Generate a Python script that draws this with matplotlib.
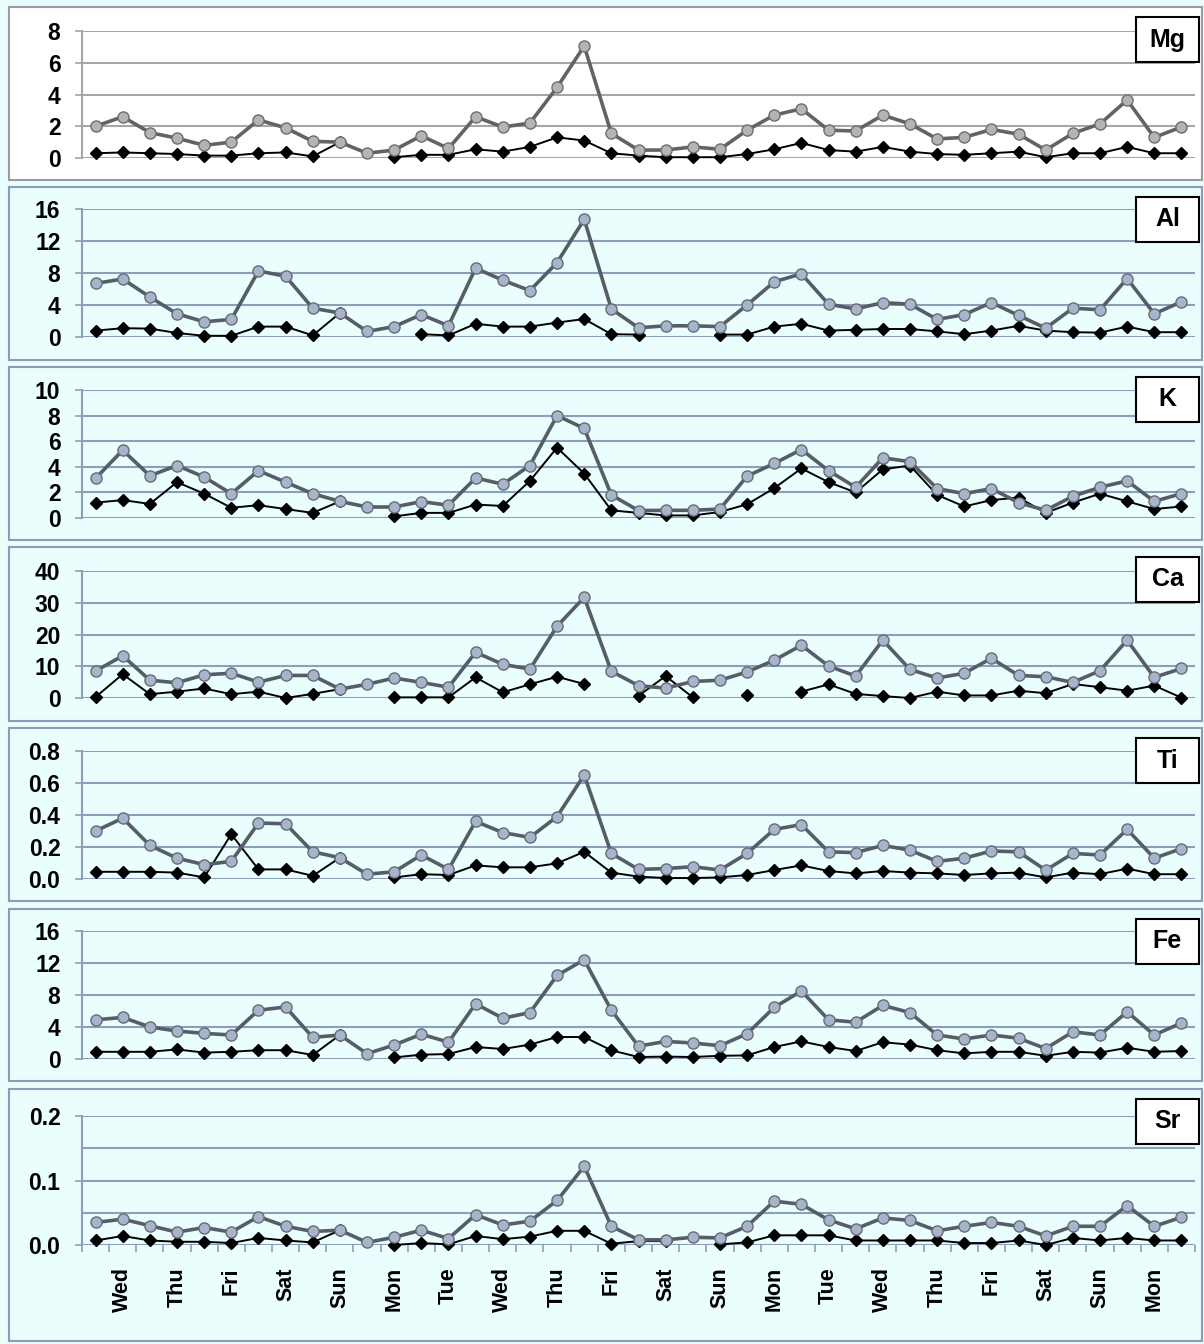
import numpy as np
import matplotlib
matplotlib.use("Agg")
import matplotlib.pyplot as plt
from matplotlib.patches import Rectangle
from matplotlib.ticker import MultipleLocator

plt.rcParams['font.family'] = ['Liberation Sans', 'DejaVu Sans']
plt.rcParams['font.weight'] = 'bold'

nan = np.nan

# day labels shown under every second sample (samples 1, 3, 5, ...)
days = ["Wed", "Thu", "Fri", "Sat", "Sun", "Mon", "Tue", "Wed", "Thu", "Fri",
        "Sat", "Sun", "Mon", "Tue", "Wed", "Thu", "Fri", "Sat", "Sun", "Mon"]
elements = ["Mg", "Al", "K", "Ca", "Ti", "Fe", "Sr"]

# total concentration (grey circles) and fraction (black diamonds) per element
mg_total = [2.0, 2.6, 1.6, 1.25, 0.8, 1.0, 2.4, 1.9, 1.05, 1.0,
            0.3, 0.5, 1.4, 0.6, 2.6, 1.95, 2.2, 4.45, 7.05, 1.55,
            0.5, 0.5, 0.7, 0.55, 1.75, 2.7, 3.1, 1.75, 1.7, 2.7,
            2.15, 1.2, 1.3, 1.8, 1.5, 0.5, 1.55, 2.15, 3.65, 1.3, 1.95]
mg_part = [0.3, 0.35, 0.3, 0.25, 0.15, 0.15, 0.3, 0.35, 0.1, 1.0,
           nan, 0.05, 0.2, 0.2, 0.55, 0.4, 0.7, 1.3, 1.1, 0.3,
           0.15, 0.05, 0.05, 0.05, 0.25, 0.55, 0.95, 0.5, 0.4, 0.7,
           0.4, 0.25, 0.2, 0.3, 0.4, 0.05, 0.3, 0.3, 0.7, 0.3, 0.3]

al_total = [6.7, 7.25, 5.0, 2.9, 1.9, 2.2, 8.25, 7.6, 3.6, 3.0,
            0.7, 1.3, 2.8, 1.4, 8.6, 7.1, 5.8, 9.3, 14.7, 3.5,
            1.15, 1.4, 1.4, 1.3, 4.0, 6.9, 7.9, 4.1, 3.5, 4.3,
            4.1, 2.2, 2.8, 4.3, 2.7, 1.1, 3.6, 3.4, 7.3, 2.9, 4.4]
al_part = [0.8, 1.1, 1.05, 0.5, 0.15, 0.15, 1.3, 1.3, 0.2, 3.0,
           nan, nan, 0.35, 0.2, 1.65, 1.3, 1.3, 1.8, 2.25, 0.35,
           0.3, nan, nan, 0.3, 0.3, 1.3, 1.65, 0.8, 0.9, 1.0,
           1.0, 0.7, 0.35, 0.8, 1.4, 0.8, 0.6, 0.55, 1.3, 0.6, 0.6]

k_total = [3.1, 5.3, 3.3, 4.1, 3.2, 1.9, 3.7, 2.8, 1.9, 1.3,
           0.86, 0.86, 1.28, 1.0, 3.13, 2.64, 4.1, 8.0, 7.0, 1.8,
           0.58, 0.6, 0.6, 0.7, 3.27, 4.26, 5.35, 3.7, 2.4, 4.7,
           4.4, 2.3, 1.9, 2.3, 1.2, 0.6, 1.7, 2.4, 2.9, 1.3, 1.9]
k_part = [1.2, 1.4, 1.1, 2.8, 1.9, 0.8, 1.0, 0.7, 0.4, 1.3,
          nan, 0.13, 0.4, 0.4, 1.05, 0.94, 2.9, 5.5, 3.47, 0.6,
          0.4, 0.2, 0.2, 0.47, 1.07, 2.33, 3.87, 2.8, 2.0, 3.8,
          4.1, 1.8, 0.9, 1.4, 1.6, 0.4, 1.2, 1.9, 1.3, 0.7, 0.9]

ca_total = [8.5, 13.3, 5.6, 4.8, 7.3, 7.8, 5.0, 7.1, 7.1, 2.8,
            4.3, 6.3, 4.9, 3.4, 14.4, 10.6, 9.1, 22.6, 31.7, 8.4,
            3.9, 3.1, 5.2, 5.6, 8.2, 11.9, 16.6, 10.1, 6.9, 18.2,
            9.0, 6.3, 7.8, 12.5, 7.1, 6.7, 4.9, 8.6, 18.2, 6.5, 9.3]
ca_part = [0.3, 7.5, 1.2, 2.0, 3.0, 1.2, 2.0, 0.0, 1.3, 2.8,
           nan, 0.2, 0.2, 0.2, 6.5, 1.8, 4.3, 6.7, 4.4, nan,
           0.7, 6.9, 0.2, nan, 0.9, nan, 2.0, 4.3, 1.3, 0.6,
           0.0, 2.0, 0.8, 0.8, 2.3, 1.5, 4.4, 3.4, 2.3, 3.9, 0.1]

ti_total = [0.30, 0.38, 0.21, 0.13, 0.09, 0.11, 0.35, 0.345, 0.17, 0.133,
            0.03, 0.045, 0.15, 0.06, 0.36, 0.29, 0.26, 0.39, 0.65, 0.16,
            0.06, 0.065, 0.077, 0.056, 0.16, 0.31, 0.34, 0.17, 0.165, 0.21,
            0.18, 0.11, 0.13, 0.175, 0.17, 0.055, 0.16, 0.15, 0.31, 0.13, 0.19]
ti_part = [0.045, 0.045, 0.045, 0.04, 0.01, 0.28, 0.06, 0.06, 0.02, 0.133,
           nan, 0.01, 0.03, 0.025, 0.085, 0.073, 0.073, 0.098, 0.17, 0.04,
           0.015, 0.006, 0.006, 0.01, 0.025, 0.056, 0.085, 0.05, 0.035, 0.05,
           0.04, 0.035, 0.025, 0.035, 0.04, 0.01, 0.04, 0.03, 0.065, 0.03, 0.03]

fe_total = [4.9, 5.2, 4.0, 3.5, 3.2, 3.0, 6.1, 6.5, 2.7, 3.0,
            0.66, 1.75, 3.1, 2.1, 6.9, 5.1, 5.8, 10.45, 12.4, 6.1,
            1.6, 2.2, 2.0, 1.66, 3.16, 6.45, 8.5, 4.9, 4.6, 6.7,
            5.8, 3.0, 2.5, 3.0, 2.6, 1.3, 3.4, 3.0, 5.9, 3.0, 4.5]
fe_part = [0.9, 0.9, 0.9, 1.2, 0.8, 0.9, 1.1, 1.1, 0.5, 3.0,
           nan, 0.2, 0.54, 0.62, 1.5, 1.25, 1.8, 2.75, 2.75, 1.08,
           0.25, 0.3, 0.25, 0.4, 0.45, 1.5, 2.2, 1.5, 1.0, 2.1,
           1.8, 1.1, 0.7, 0.9, 0.9, 0.4, 0.9, 0.8, 1.4, 0.9, 1.0]

sr_total = [0.035, 0.040, 0.030, 0.020, 0.027, 0.020, 0.044, 0.029, 0.021, 0.023,
            0.004, 0.012, 0.023, 0.010, 0.047, 0.031, 0.037, 0.069, 0.122, 0.029,
            0.008, 0.008, 0.012, 0.011, 0.029, 0.068, 0.063, 0.039, 0.025, 0.042,
            0.038, 0.022, 0.029, 0.035, 0.029, 0.014, 0.029, 0.029, 0.061, 0.029, 0.043]
sr_part = [0.007, 0.014, 0.007, 0.005, 0.005, 0.003, 0.011, 0.007, 0.004, 0.023,
           nan, 0.0, 0.003, 0.001, 0.014, 0.009, 0.013, 0.022, 0.022, 0.002,
           0.006, 0.006, nan, 0.001, 0.004, 0.015, 0.015, 0.015, 0.007, 0.007,
           0.007, 0.007, 0.003, 0.003, 0.007, 0.0, 0.011, 0.007, 0.011, 0.007, 0.007]

totals = [mg_total, al_total, k_total, ca_total, ti_total, fe_total, sr_total]
parts = [mg_part, al_part, k_part, ca_part, ti_part, fe_part, sr_part]
y_max = [8, 16, 10, 40, 0.8, 16, 0.2]
y_step = [2, 4, 2, 10, 0.2, 4, 0.1]
y_fmt = ["%d", "%d", "%d", "%d", "%.1f", "%d", "%.1f"]

# panel geometry in pixels
W, H = 1204, 1344
box_top = [7, 187, 367, 547, 728, 909, 1089]
box_bot = [180, 360, 540, 721, 901, 1081, 1341]
plot_top = [31, 209, 390, 571, 751, 931, 1116]
plot_bot = [158, 337, 518, 698, 879, 1059, 1245]
plot_left, plot_right = 82, 1195

bg = '#EAFEFE'
fig = plt.figure(figsize=(W / 100, H / 100), dpi=100, facecolor=bg)


def fig_rect(left, top, right, bottom):
    return [left / W, 1 - bottom / H, (right - left) / W, (bottom - top) / H]


x = np.arange(len(mg_total))

for i, el in enumerate(elements):
    first = i == 0
    grid_c = '#A6A6A6' if first else '#8E9EBA'
    fill_c = '#B4B4B4' if first else '#A8B4CA'
    edge_c = '#6E6E6E' if first else '#666B78'
    line_c = '#636363' if first else '#585C66'

    # panel frame
    r = fig_rect(9, box_top[i], 1202, box_bot[i])
    fig.add_artist(Rectangle((r[0], r[1]), r[2], r[3], transform=fig.transFigure,
                             facecolor='white' if first else bg,
                             edgecolor='#9C9C9C' if first else '#8C9CB8', lw=1.5, zorder=0))

    ax = fig.add_axes(fig_rect(plot_left, plot_top[i], plot_right, plot_bot[i]))
    ax.set_facecolor('none')
    ax.set_xlim(-0.5, len(x) - 0.5)
    ax.set_ylim(0, y_max[i])

    for s in ['top', 'right', 'bottom']:
        ax.spines[s].set_visible(False)
    ax.spines['left'].set_color(grid_c)
    ax.spines['left'].set_linewidth(1.5)

    ticks = np.arange(0, y_max[i] + y_step[i] / 2, y_step[i])
    ax.set_yticks(ticks)
    ax.set_yticklabels([y_fmt[i] % t for t in ticks], fontweight='bold',
                       fontsize=16.5)
    ax.tick_params(axis='y', which='major', length=5, width=1.2, color=grid_c,
                   pad=10.5)
    ax.yaxis.grid(True, which='major', color=grid_c, lw=1.5)
    if el == "Sr":
        ax.yaxis.set_minor_locator(MultipleLocator(0.05))
        ax.yaxis.grid(True, which='minor', color=grid_c, lw=1.5)
        ax.tick_params(axis='y', which='minor', length=0)
    ax.set_axisbelow(True)

    if el == "Sr":
        ax.set_xticks(np.arange(1, len(x), 2))
        ax.set_xticklabels(days, rotation=90, fontweight='bold', fontsize=15.5)
        ax.set_xticks(np.arange(-0.5, len(x), 1), minor=True)
        ax.tick_params(axis='x', which='major', length=0, pad=16)
        ax.tick_params(axis='x', which='minor', length=5, width=1.2, color=grid_c)
    else:
        ax.set_xticks([])

    ax.plot(x, parts[i], color='black', lw=1.4, marker='D', ms=6,
            zorder=3, clip_on=False)
    ax.plot(x, totals[i], color=line_c, lw=2.6, marker='o', ms=8,
            mfc=fill_c, mec=edge_c, mew=1, zorder=4, clip_on=False)

    # element tag in the upper right corner
    t = box_top[i] + 10
    r = fig_rect(1136, t, 1199, t + 45)
    fig.add_artist(Rectangle((r[0], r[1]), r[2], r[3], transform=fig.transFigure,
                             facecolor='white', edgecolor='black', lw=1.5, zorder=5))
    fig.text(1167.5 / W, 1 - (t + 22.5) / H, el, ha='center', va='center',
             fontsize=18, fontweight='bold', zorder=6)

fig.savefig("out.png", dpi=100, facecolor=bg)
